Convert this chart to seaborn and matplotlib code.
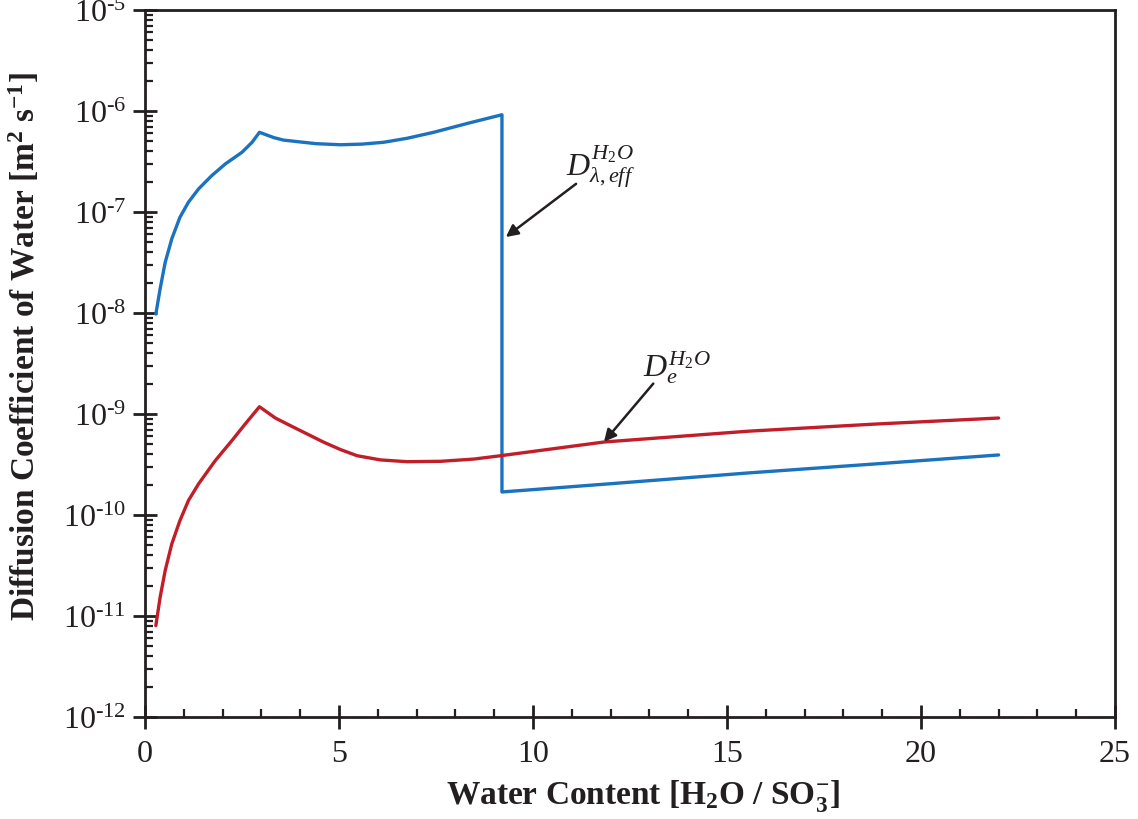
import numpy as np
import pandas as pd
import matplotlib
matplotlib.use("Agg")
import matplotlib.pyplot as plt
import matplotlib.ticker as mticker
import seaborn as sns

# === Datos
# D_lambda,eff (azul): subida, meseta, salto en lambda ~ 9.2, rama baja
x_eff = [0.28, 0.39, 0.52, 0.69, 0.90, 1.12, 1.38, 1.72, 2.07, 2.50, 2.76, 2.95,
         3.32, 3.57, 4.40, 5.04, 5.60, 6.15, 6.76, 7.44, 8.32, 9.20,
         9.20, 12.0, 15.56, 19.0, 22.0]
d_eff = [9.77e-9, 1.73e-8, 3.16e-8, 5.41e-8, 8.85e-8, 1.25e-7, 1.69e-7, 2.29e-7, 2.99e-7,
         3.90e-7, 4.90e-7, 6.15e-7,
         5.45e-7, 5.15e-7, 4.75e-7, 4.63e-7, 4.70e-7, 4.90e-7, 5.37e-7, 6.15e-7, 7.55e-7, 9.18e-7,
         1.69e-10, 2.04e-10, 2.61e-10, 3.24e-10, 3.93e-10]

# D_e (rojo)
x_e = [0.28, 0.39, 0.52, 0.69, 0.90, 1.12, 1.38, 1.81, 2.24, 2.58, 2.95,
       3.36, 3.75, 4.18, 4.61, 5.04, 5.47, 6.07, 6.76, 7.62, 8.48, 9.16,
       11.83, 15.56, 18.8, 22.0]
d_e = [8.02e-12, 1.53e-11, 2.81e-11, 5.16e-11, 8.79e-11, 1.39e-10, 2.03e-10, 3.45e-10,
       5.45e-10, 7.94e-10, 1.18e-9,
       9.12e-10, 7.66e-10, 6.34e-10, 5.25e-10, 4.44e-10, 3.86e-10, 3.51e-10, 3.37e-10,
       3.40e-10, 3.58e-10, 3.86e-10,
       5.28e-10, 6.76e-10, 7.94e-10, 9.12e-10]

df_eff = pd.DataFrame({"lam": x_eff, "D": d_eff})
df_e = pd.DataFrame({"lam": x_e, "D": d_e})

# === Estilo
sns.set_style("ticks")
plt.rcParams["font.family"] = ["Liberation Serif", "DejaVu Serif"]
plt.rcParams["mathtext.fontset"] = "custom"
plt.rcParams["mathtext.rm"] = "Liberation Serif"
plt.rcParams["mathtext.it"] = "Liberation Serif:italic"
plt.rcParams["mathtext.bf"] = "Liberation Serif:bold"

ink = "#231F20"
fig = plt.figure(figsize=(11.38, 8.2), dpi=100)
ax = fig.add_axes([0.1274, 0.1244, 0.8524, 0.8622])

sns.lineplot(data=df_eff, x="lam", y="D", ax=ax, color="#1B72BE", lw=2.4,
             estimator=None, sort=False)
sns.lineplot(data=df_e, x="lam", y="D", ax=ax, color="#C21E2A", lw=2.4,
             estimator=None, sort=False)

ax.set_yscale("log")
ax.set_xlim(0, 25)
ax.set_ylim(1e-12, 1e-5)

ax.xaxis.set_major_locator(mticker.MultipleLocator(5))
ax.xaxis.set_minor_locator(mticker.MultipleLocator(1))
ax.yaxis.set_major_locator(mticker.LogLocator(base=10, numticks=20))
ax.yaxis.set_minor_locator(mticker.LogLocator(base=10, subs=np.arange(2, 10), numticks=20))
ax.yaxis.set_minor_formatter(mticker.NullFormatter())
ax.yaxis.set_major_formatter(mticker.FuncFormatter(
    lambda v, p: r"10$^{\text{%d}}$" % int(round(np.log10(v)))))

ax.tick_params(which="both", bottom=True, left=True, top=False, right=False)
ax.tick_params(which="major", direction="inout", length=17, width=2, labelsize=23,
               color=ink, labelcolor=ink, pad=5)
ax.tick_params(which="minor", direction="in", length=6, width=1.6, color=ink)
ax.tick_params(axis="x", which="major", pad=7)
for s in ax.spines.values():
    s.set_visible(True)
    s.set_color(ink)
    s.set_linewidth(2)

ax.set_xlabel(r"Water Content [H$_\mathbf{2}$O / SO$_\mathbf{3}^\mathbf{-}$]",
              fontsize=24, fontweight="bold", color=ink)
ax.set_ylabel(r"Diffusion Coefficient of Water [m$^\mathbf{2}$ s$^\mathbf{-1}$]",
              fontsize=24, fontweight="bold", color=ink)
ax.xaxis.set_label_coords(0.513, -0.085)
ax.yaxis.set_label_coords(-0.106, 0.525)

# === Anotaciones
ax.annotate("", xy=(9.30, 5.65e-8), xytext=(11.11, 1.9e-7),
            arrowprops=dict(arrowstyle="-|>", color=ink, lw=1.8, mutation_scale=18,
                            shrinkA=0, shrinkB=0))
ax.text(11.75, 1.65e-7, r"$D_{\lambda,eff}^{H_2O}$", fontsize=23, ha="center", va="bottom",
        color=ink)
ax.annotate("", xy=(11.83, 5.3e-10), xytext=(13.10, 2.0e-9),
            arrowprops=dict(arrowstyle="-|>", color=ink, lw=1.8, mutation_scale=18,
                            shrinkA=0, shrinkB=0))
ax.text(13.70, 1.95e-9, r"$D_e^{H_2O}$", fontsize=23, ha="center", va="bottom",
        color=ink)

plt.savefig("out.png", dpi=100)
